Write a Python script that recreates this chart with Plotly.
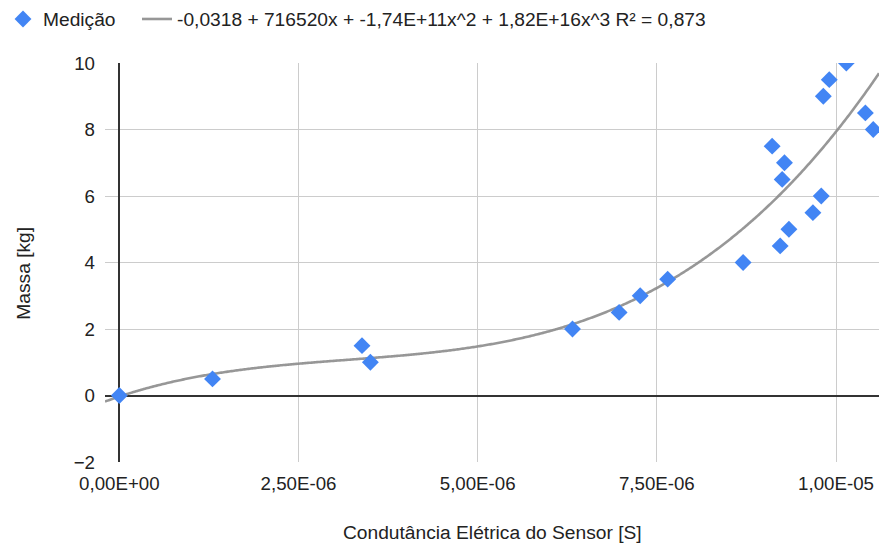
import numpy as np
import plotly.graph_objects as go

# Measured points: electrical conductance [S] vs mass [kg]
condutancia = [0.0, 1.30e-6, 3.386e-6, 3.503e-6, 6.323e-6, 6.974e-6, 7.268e-6, 7.651e-6,
               8.704e-6, 9.109e-6, 9.221e-6, 9.249e-6, 9.281e-6, 9.343e-6, 9.678e-6,
               9.794e-6, 9.823e-6, 9.906e-6, 10.144e-6, 10.41e-6, 10.52e-6]
massa = [0, 0.5, 1.5, 1, 2, 2.5, 3, 3.5,
         4, 7.5, 4.5, 6.5, 7, 5, 5.5,
         6, 9, 9.5, 10, 8.5, 8]

# Polynomial trendline coefficients (from the chart legend), ascending order
trend_coefs = [-0.0318, 716520, -1.74e11, 1.82e16]
trend_label = "-0,0318 + 716520x + -1,74E+11x^2 + 1,82E+16x^3 R² = 0,873"

x_range = [-2.0e-7, 1.06e-5]
y_range = [-2, 10]
x_tickvals = [0, 2.5e-6, 5.0e-6, 7.5e-6, 1.0e-5]
x_ticktext = ["0,00E+00", "2,50E-06", "5,00E-06", "7,50E-06", "1,00E-05"]

xs = np.linspace(x_range[0], x_range[1], 600)
ys = np.polynomial.polynomial.polyval(xs, trend_coefs)

FONT = "Arial, Liberation Sans, sans-serif"
FS = 19.2
TXT = "#222222"

fig = go.Figure()
fig.add_trace(go.Scatter(
    x=condutancia, y=massa, mode="markers", name="Medição",
    marker=dict(symbol="diamond", size=13, color="#4285F4", line=dict(width=0)),
    legendrank=1, legendwidth=89,
))
fig.add_trace(go.Scatter(
    x=xs, y=ys, mode="lines", name=trend_label,
    line=dict(color="rgba(140,140,140,0.9)", width=2.6, simplify=False),
    hoverinfo="skip", legendrank=2,
))
# draw markers above the trendline
fig.data = (fig.data[1], fig.data[0])

fig.update_layout(
    width=879, height=545,
    margin=dict(l=105, r=0, t=63, b=83),
    paper_bgcolor="white", plot_bgcolor="white",
    separators=",.",
    font=dict(family=FONT, size=FS, color=TXT),
    showlegend=True,
    legend=dict(
        orientation="h", xref="container", yref="container",
        x=3 / 879, y=1, xanchor="left", yanchor="top",
        font=dict(size=FS, color=TXT),
        bgcolor="rgba(0,0,0,0)", borderwidth=0,
        traceorder="normal",
    ),
    xaxis=dict(
        range=x_range, tickvals=x_tickvals, ticktext=x_ticktext,
        showgrid=True, gridcolor="#cccccc", gridwidth=1,
        zeroline=True, zerolinecolor="#333333", zerolinewidth=1.5,
        showline=False, ticks="", ticklabelstandoff=8,
        tickfont=dict(size=18.7, color=TXT),
    ),
    yaxis=dict(
        range=y_range, dtick=2, tick0=0,
        showgrid=True, gridcolor="#cccccc", gridwidth=1,
        zeroline=True, zerolinecolor="#333333", zerolinewidth=1.5,
        showline=False, ticks="", ticklabelstandoff=9,
        tickfont=dict(size=18.7, color=TXT),
    ),
    annotations=[
        dict(text="Condutância Elétrica do Sensor [S]", xref="paper", yref="paper",
             x=0.5, y=-0.177, xanchor="center", yanchor="middle", showarrow=False,
             font=dict(size=FS, color=TXT)),
        dict(text="Massa [kg]", xref="paper", yref="paper",
             x=(24 - 105) / 774, y=0.472, xanchor="center", yanchor="middle", showarrow=False,
             textangle=-90, font=dict(size=FS, color=TXT)),
    ],
)

fig.write_html("out.html")
